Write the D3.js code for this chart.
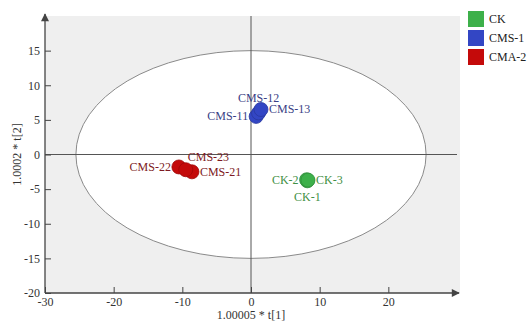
<!DOCTYPE html>
<html>
<head>
<meta charset="utf-8">
<script src="https://cdn.jsdelivr.net/npm/d3@7"></script>
<style>
  body { margin: 0; background: #fff; }
  svg text { font-family: "Liberation Serif", "DejaVu Serif", serif; }
</style>
</head>
<body>
<figure id="score" style="margin:0"></figure>
<script>
// groups for legend
const groups = ["CK", "CMS-1", "CMA-2"];
const groupColors = ["#3db04a", "#3346c4", "#c40a0a"];
const labelColors = ["#3f8f45", "#3a3f86", "#7d1a22"];

// sample scores (t1, t2)
const sampleNames = ["CK-1", "CK-2", "CK-3", "CMS-11", "CMS-12", "CMS-13", "CMS-21", "CMS-22", "CMS-23"];
const sampleGroup = [0, 0, 0, 1, 1, 1, 2, 2, 2];
const t1 = [8.2, 8.1, 8.3, 0.75, 1.1, 1.45, -8.6, -10.5, -9.5];
const t2 = [-3.8, -3.65, -3.7, 5.5, 6.0, 6.5, -2.5, -1.8, -2.2];
// label placement: dir relative to point
const labelPos = ["below", "left", "right", "left", "above", "right", "right", "left", "aboveright"];

const xTicks = [-30, -20, -10, 0, 10, 20];
const yTicks = [-20, -15, -10, -5, 0, 5, 10, 15];
const ellipseR = [25.5, 15];

const W = 529, H = 324;
const padL = 45, padR = 457, padT = 16, padB = 293;

const svg = d3.select("figure#score")
  .append("svg")
  .attr("width", W)
  .attr("height", H);

const x = d3.scaleLinear().domain([-30, 30]).range([padL, padR]);
const y = d3.scaleLinear().domain([-20, 20]).range([padB, padT]);
const fmt = d => String(d); // plain hyphen minus, as in the original

// gray background with white ellipse
svg.append("rect")
  .attr("x", padL).attr("y", padT)
  .attr("width", padR - padL + 3).attr("height", padB - padT)
  .attr("fill", "#efefef");

svg.append("ellipse")
  .attr("cx", x(0)).attr("cy", y(0))
  .attr("rx", x(ellipseR[0]) - x(0))
  .attr("ry", y(0) - y(ellipseR[1]))
  .attr("fill", "#ffffff")
  .attr("stroke", "#8a8a8a")
  .attr("stroke-width", 1);

// zero lines
svg.append("line")
  .attr("x1", x(0)).attr("x2", x(0))
  .attr("y1", padT).attr("y2", padB)
  .attr("stroke", "#555").attr("stroke-width", 1);
svg.append("line")
  .attr("x1", padL).attr("x2", padR)
  .attr("y1", y(0)).attr("y2", y(0))
  .attr("stroke", "#555").attr("stroke-width", 1);

// arrow marker
svg.append("defs").append("marker")
  .attr("id", "arrow")
  .attr("viewBox", "0 0 10 10")
  .attr("refX", 9).attr("refY", 5)
  .attr("markerWidth", 10).attr("markerHeight", 8)
  .attr("markerUnits", "userSpaceOnUse")
  .attr("orient", "auto")
  .append("path")
  .attr("d", "M0,0L10,5L0,10Z")
  .attr("fill", "#444");

// X axis
const xAxis = svg.append("g")
  .attr("transform", "translate(0," + padB + ")")
  .call(d3.axisBottom(x).tickValues(xTicks).tickFormat(fmt).tickSizeInner(-6).tickSizeOuter(0).tickPadding(4));
xAxis.select(".domain").remove();
xAxis.append("line")
  .attr("x1", padL).attr("x2", padR + 2)
  .attr("stroke", "#444").attr("stroke-width", 1.3)
  .attr("marker-end", "url(#arrow)");

// Y axis
const yAxis = svg.append("g")
  .attr("transform", "translate(" + padL + ",0)")
  .call(d3.axisLeft(y).tickValues(yTicks).tickFormat(fmt).tickSizeInner(-6).tickSizeOuter(0).tickPadding(5));
yAxis.select(".domain").remove();
yAxis.append("line")
  .attr("y1", padB).attr("y2", padT - 2)
  .attr("stroke", "#444").attr("stroke-width", 1.3)
  .attr("marker-end", "url(#arrow)");

svg.selectAll(".tick line").attr("stroke", "#444");
svg.selectAll(".tick text")
  .attr("fill", "#333")
  .style("font-family", "Liberation Serif, serif")
  .style("font-size", "12px");

// axis titles
svg.append("text")
  .attr("x", x(0)).attr("y", 319)
  .attr("text-anchor", "middle")
  .attr("fill", "#333").style("font-size", "12px")
  .text("1.00005 * t[1]");
svg.append("text")
  .attr("transform", "translate(21," + y(0) + ") rotate(-90)")
  .attr("text-anchor", "middle")
  .attr("fill", "#333").style("font-size", "12px")
  .text("1.0002 * t[2]");

// points
const samples = sampleNames.map((n, i) => ({ name: n, g: sampleGroup[i], t1: t1[i], t2: t2[i], pos: labelPos[i] }));

svg.append("g").selectAll("circle")
  .data(samples)
  .enter()
  .append("circle")
  .attr("cx", d => x(d.t1))
  .attr("cy", d => y(d.t2))
  .attr("r", 7)
  .attr("fill", d => groupColors[d.g])
  .attr("stroke", d => d3.color(groupColors[d.g]).darker(0.6))
  .attr("stroke-width", 0.8);

// labels
const off = {
  left: [-8, 4, "end"],
  right: [8, 4, "start"],
  above: [0, -11, "middle"],
  below: [0, 20, "middle"],
  aboveright: [2, -9, "start"]
};
svg.append("g").selectAll("text")
  .data(samples)
  .enter()
  .append("text")
  .attr("x", d => x(d.t1) + off[d.pos][0])
  .attr("y", d => y(d.t2) + off[d.pos][1])
  .attr("text-anchor", d => off[d.pos][2])
  .attr("fill", d => labelColors[d.g])
  .style("font-size", "12px")
  .text(d => d.name);

// legend
const legend = svg.append("g").attr("transform", "translate(468,11)");
groups.forEach((g, i) => {
  legend.append("rect")
    .attr("x", 0).attr("y", i * 19)
    .attr("width", 16).attr("height", 16)
    .attr("fill", groupColors[i]);
  legend.append("text")
    .attr("x", 21).attr("y", i * 19 + 12)
    .attr("fill", "#222")
    .style("font-size", "12px")
    .text(g);
});
</script>
</body>
</html>
